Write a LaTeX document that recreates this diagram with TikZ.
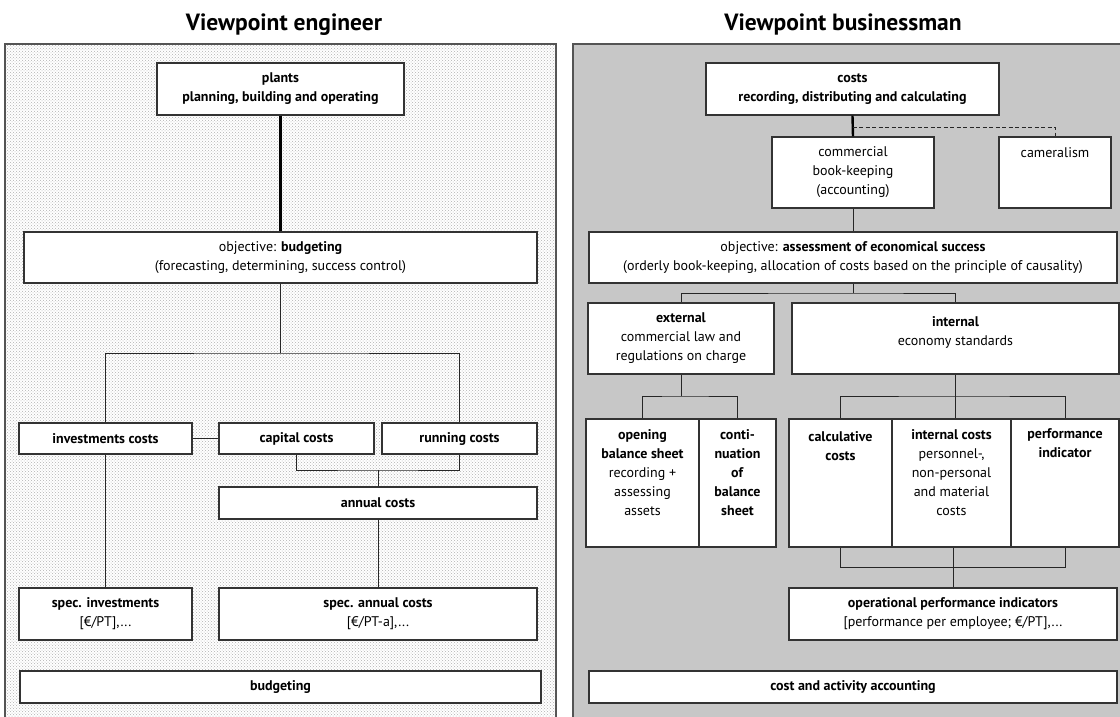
\documentclass[tikz,border=0pt]{standalone}
\usepackage{fontspec}
\setmainfont{PT Sans}
\usetikzlibrary{positioning, patterns, calc}
\definecolor{panelgray}{rgb}{0.78, 0.78, 0.78}
\definecolor{frameline}{rgb}{0.33, 0.33, 0.33}
\definecolor{boxline}{rgb}{0.2, 0.2, 0.2}
\definecolor{dotgray}{rgb}{0.7, 0.7, 0.7}

\begin{document}
\begin{tikzpicture}[x=1pt, y=-1pt,
		title/.style={font=\fontsize{23.5}{28}\selectfont\bfseries, anchor=base},
		panel/.style={draw=frameline, line width=1.6pt},
		box/.style={draw=boxline, fill=white, line width=1.2pt, inner sep=0pt, align=center, font=\fontsize{14}{19}\selectfont},
		toptext/.style={anchor=north, align=center, inner sep=4pt, yshift=-7pt, font=\fontsize{14}{19}\selectfont},
		conn/.style={line width=0.9pt, draw=black!85},
		connbold/.style={line width=2.4pt, draw=black}
	]
	\useasboundingbox (0,0) rectangle (1120,716);

	% --- Panels and headings ---
	\draw[panel, fill=white] (5,44) rectangle (556,730);
	\fill[pattern=crosshatch dots, pattern color=dotgray] (6,45) rectangle (555,729);
	\draw[panel, fill=panelgray] (573,44) rectangle (1130,730);

	\node[title] (ltitle) at (284,30) {Viewpoint engineer};
	\node[title] (rtitle) at (843,30) {Viewpoint businessman};

	% --- Viewpoint engineer ---
	\node[box, minimum width=247pt, minimum height=52pt] (plants) at (280.5,89) {\textbf{plants}\\\textbf{planning, building and operating}};
	\node[box, minimum width=513pt, minimum height=51pt] (lobj) at (280.5,257.5) {objective: \textbf{budgeting}\\(forecasting, determining, success control)};

	\node[box, minimum width=173pt, minimum height=31pt] (inv) at (105.5,438.5) {\textbf{investments costs}};
	\node[box, minimum width=155pt, minimum height=31pt] (cap) at (296.5,438.5) {\textbf{capital costs}};
	\node[box, minimum width=155pt, minimum height=31pt] (run) at (459.5,438.5) {\textbf{running costs}};
	\node[box, minimum width=318pt, minimum height=32pt] (annual) at (378,503) {\textbf{annual costs}};

	\node[box, minimum width=173pt, minimum height=52pt] (sinv) at (105.5,614) {\textbf{spec. investments}\\{[€/PT],...}};
	\node[box, minimum width=318pt, minimum height=52pt] (sann) at (378,614) {\textbf{spec. annual costs}\\{[€/PT-a],...}};
	\node[box, minimum width=521pt, minimum height=32pt] (lbudget) at (280.5,687) {\textbf{budgeting}};

	% --- Viewpoint businessman ---
	\node[box, minimum width=293pt, minimum height=52pt] (costs) at (852.5,89) {\textbf{costs}\\\textbf{recording, distributing and calculating}};
	\node[box, minimum width=162pt, minimum height=71pt] (comm) at (853,172.5) {commercial\\book-keeping\\(accounting)};
	\node[box, minimum width=112pt, minimum height=71pt, label={[toptext]north:cameralism}] (cam) at (1055,172.5) {};
	\node[box, minimum width=528pt, minimum height=51pt] (robj) at (853,257.5) {objective: \textbf{assessment of economical success}\\(orderly book-keeping, allocation of costs based on the principle of causality)};

	\node[box, minimum width=186pt, minimum height=71pt] (ext) at (681,338.5) {\textbf{external}\\commercial law and\\regulations on charge};
	\node[box, minimum width=327pt, minimum height=71pt, label={[toptext, inner sep=7pt]north:{\textbf{internal}\\economy standards}}] (int) at (955.5,338.5) {};

	\node[box, minimum width=113pt, minimum height=128pt, label={[toptext]north:{\textbf{opening}\\\textbf{balance sheet}\\recording +\\assessing\\assets}}] (open) at (642.5,483) {};
	\node[box, minimum width=77pt, minimum height=128pt, label={[toptext]north:{\textbf{conti-}\\\textbf{nuation}\\\textbf{of}\\\textbf{balance}\\\textbf{sheet}}}] (conti) at (737.5,483) {};
	\node[box, minimum width=103pt, minimum height=128pt, label={[toptext, yshift=-2pt]north:{\textbf{calculative}\\\textbf{costs}}}] (calc) at (840.5,483) {};
	\node[box, minimum width=119pt, minimum height=128pt, label={[toptext]north:{\textbf{internal costs}\\personnel-,\\non-personal\\and material\\costs}}] (intc) at (951.5,483) {};
	\node[box, minimum width=108pt, minimum height=128pt, label={[toptext, inner sep=3pt]north:{\textbf{performance}\\\textbf{indicator}}}] (perf) at (1065,483) {};

	\node[box, minimum width=328pt, minimum height=52pt] (op) at (953,614) {\textbf{operational performance indicators}\\{[performance per employee; €/PT],...}};
	\node[box, minimum width=528pt, minimum height=32pt] (cact) at (853,687) {\textbf{cost and activity accounting}};

	% --- Connections, engineer ---
	\coordinate (lbus) at (lobj.south |- 0,353);
	\coordinate (abus) at (annual.north |- 0,470);
	\draw[connbold] (plants.south) -- (lobj.north);
	\draw[conn] (lobj.south) -- (lbus);
	\draw[conn] (inv.north) |- (lbus) -| (run.north);
	\draw[conn] (inv.east) -- (cap.west);
	\draw[conn] (cap.south) |- (abus) -| (run.south);
	\draw[conn] (abus) -- (annual.north);
	\draw[conn] (inv.south) -- (sinv.north);
	\draw[conn] (annual.south) -- (sann.north);

	% --- Connections, businessman ---
	\coordinate (dsplit) at (costs.south |- 0,127);
	\coordinate (rbus) at (robj.south |- 0,293);
	\coordinate (ebus) at (ext.south |- 0,396);
	\coordinate (ibus) at (int.south |- 0,396);
	\coordinate (obus) at (op.north |- 0,567);
	\draw[connbold] (costs.south) -- (comm.north);
	\draw[conn, dash pattern=on 4pt off 2.5pt] (dsplit) -| (cam.north);
	\draw[conn] (comm.south) -- (robj.north);
	\draw[conn] (robj.south) -- (rbus);
	\draw[conn] (ext.north) |- (rbus) -| (int.north);
	\draw[conn] (ext.south) -- (ebus);
	\draw[conn] (open.north) |- (ebus) -| (conti.north);
	\draw[conn] (int.south) -- (int.south |- intc.north);
	\draw[conn] (calc.north) |- (ibus) -| (perf.north);
	\draw[conn] (calc.south) |- (obus) -| (perf.south);
	\draw[conn] (op.north |- intc.south) -- (op.north);
\end{tikzpicture}
\end{document}
